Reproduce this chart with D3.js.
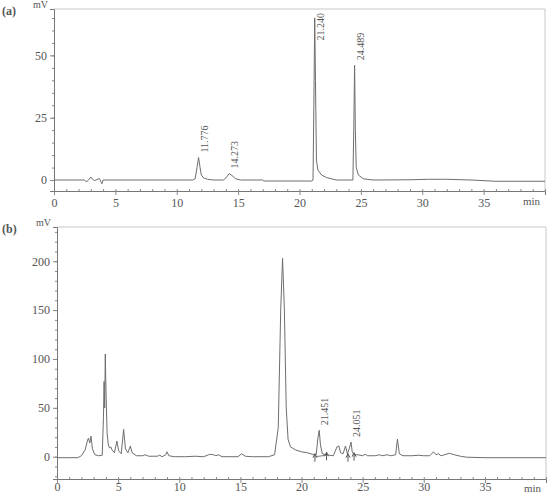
<!DOCTYPE html>
<html>
<head>
<meta charset="utf-8">
<script src="https://cdn.jsdelivr.net/npm/d3@7"></script>
<style>
  body { margin: 0; background: #fff; }
  text { font-family: "Liberation Serif", "DejaVu Serif", serif; fill: #555; }
</style>
</head>
<body>
<div id="chart"></div>
<script>
var w = 550, h = 495;

// trace (a): standard
var timesA = [0, 2.5, 2.65, 2.85, 3.0, 3.15, 3.3, 3.5, 3.7, 3.8, 3.9, 4.0,
  11.3, 11.5, 11.65, 11.776, 11.9, 12.0, 12.2, 12.5, 13.0,
  13.8, 14.0, 14.273, 14.5, 14.8, 15.2, 17.0, 17.1, 21.0, 21.1, 21.17, 21.24, 21.3, 21.38, 21.5, 21.8, 22.2, 23.0,
  24.35, 24.42, 24.489, 24.55, 24.62, 24.8, 25.2, 26.0, 29.0, 30.5, 32.0, 34.0, 36.0, 40.0];
var signalA = [0, 0, -0.8, 0.3, 1.2, 0.2, -0.2, 0.2, 0.6, -0.5, -1.5, 0,
  0, 0.5, 5, 9, 5, 2, 0.8, 0.3, 0,
  0, 0.8, 2.6, 1.8, 0.5, 0, 0, -0.4, -0.4, 0, 30, 65, 40, 8, 4, 2, 1, 0,
  0, 20, 46, 20, 5, 2, 0.5, 0, 0.1, 0.3, 0.3, 0, -0.5, -0.5];
var peaksA = [11.776, 14.273, 21.240, 24.489];
var peakHeightsA = [9, 2.6, 65, 46];
var peakLabelsA = ["11.776", "14.273", "21.240", "24.489"];

// trace (b): sample
var timesB = [0, 1.7, 2.0, 2.3, 2.5, 2.58, 2.68, 2.78, 2.9, 3.1, 3.4, 3.7, 3.8, 3.85, 3.9, 3.95, 4.02, 4.1, 4.2, 4.3, 4.4, 4.5, 4.7,
  4.9, 5.05, 5.25, 5.45, 5.6, 5.8, 6.0, 6.15, 6.5, 7.0, 7.2, 7.5, 8.2, 8.4, 8.6, 8.9, 9.0, 9.15, 9.6, 10.5, 11.3, 12.0,
  12.5, 12.8, 13.0, 13.2, 13.5, 14.8, 15.1, 15.4, 16.0, 17.3, 17.8, 18.1, 18.3, 18.45, 18.6, 18.75, 18.9, 19.1, 19.5, 20.0, 20.5,
  21.0, 21.2, 21.35, 21.45, 21.55, 21.7, 22.0, 22.3, 22.6, 22.9, 23.05, 23.2, 23.4, 23.6, 23.75, 23.9, 24.05, 24.15, 24.3, 24.6,
  25.0, 25.2, 25.4, 26.0, 26.4, 26.6, 27.0, 27.3, 27.7, 27.85, 28.0, 28.3, 29.0, 29.6, 30.0, 30.5, 30.8, 31.0, 31.2, 31.4, 31.7,
  32.1, 32.5, 33.0, 33.5, 35.0, 40.0];
var signalB = [-1, -1, 1, 7, 17, 19, 14, 21, 8, 2, 1, 1.5, 40, 77, 50, 105, 60, 24, 12, 9, 10, 7, 4,
  16, 6, 3, 28, 8, 4, 11, 4, 1, 1, 2, 0.5, 0.5, 1.5, 0, 2, 5, 1, 0, 0, 0.5, 0,
  2.5, 2, 1, 2, 0, 0, 3, 0.5, 0, 0, 2, 30, 150, 203, 150, 50, 18, 10, 7, 5, 4,
  2, 2, 20, 27, 12, 3, 2, 1.5, 1, 10, 11, 4, 3, 11, 3, 8, 15, 5, 2, 2,
  1, 2.5, 1, 1, 2, 1, 2, 1, 2, 18, 3, 1, 1, 1.5, 1, 1, 5, 2, 3, 1, 2,
  3.5, 2, 0.5, -0.5, -1, -1];
var peaksB = [21.451, 24.051];
var peakHeightsB = [27, 15];
var peakLabelsB = ["21.451", "24.051"];
var markTimesB = [21.1, 22.05, 23.8, 24.3];
var markLevelsB = [0, 1.5, 0, 1];

var svg = d3.select("#chart").append("svg")
    .attr("width", w)
    .attr("height", h);

function drawPanel(cfg) {
    var x = d3.scaleLinear().domain([0, 40]).range([cfg.left, cfg.right]);
    var y = d3.scaleLinear().domain(cfg.ydom).range([cfg.bottom, cfg.top]);
    var g = svg.append("g");

    // light frame on top and right
    g.append("path")
        .attr("d", "M" + cfg.left + "," + cfg.top + "H" + cfg.right + "V" + cfg.bottom)
        .attr("fill", "none")
        .attr("stroke", "#c8c8c8");

    // x axis: major every 5, minor every 1
    g.append("g").attr("transform", "translate(0," + cfg.bottom + ")")
        .call(d3.axisBottom(x).tickValues(d3.range(0, 36, 5)).tickSize(4).tickFormat(d3.format("d")))
        .selectAll(".tick text").attr("y", cfg.xlabOff);
    g.append("g").attr("transform", "translate(0," + cfg.bottom + ")")
        .call(d3.axisBottom(x).tickValues(d3.range(0, 41, 1)).tickSize(-2).tickFormat(""))
        .select(".domain").remove();

    g.append("g").attr("transform", "translate(" + cfg.left + ",0)")
        .call(d3.axisLeft(y).tickValues(cfg.yticks).tickSize(4).tickPadding(3).tickFormat(d3.format("d")));
    g.append("g").attr("transform", "translate(" + cfg.left + ",0)")
        .call(d3.axisLeft(y).tickValues(cfg.yminor).tickSize(2).tickFormat(""))
        .select(".domain").remove();

    g.selectAll(".domain").attr("stroke", "#777");
    g.selectAll(".tick line").attr("stroke", "#888");
    g.selectAll(".tick text").style("font-size", "12px").attr("fill", "#555");

    g.append("text").attr("x", cfg.right - 22).attr("y", cfg.bottom + cfg.minOff)
        .style("font-size", "11px").text("min");
    g.append("text").attr("x", cfg.left - 21).attr("y", cfg.top - 1)
        .style("font-size", "10px").text("mV");
    g.append("text").attr("x", 2).attr("y", cfg.top + 6)
        .style("font-size", "12px").style("font-weight", "bold").attr("fill", "#222")
        .text(cfg.tag);

    // trace
    var line = d3.line()
        .x(function (d, i) { return x(cfg.times[i]); })
        .y(function (d) { return y(d); });
    g.append("path")
        .datum(cfg.signal)
        .attr("d", line)
        .attr("fill", "none")
        .attr("stroke", "#6e6e6e")
        .attr("stroke-width", 1)
        .attr("stroke-linejoin", "round");

    // peak labels
    cfg.peaks.forEach(function (t, i) {
        var px = x(t) + 9, py = y(cfg.heights[i]) - 5;
        var lbl = g.append("text")
            .style("font-size", "10px")
            .attr("fill", "#555")
            .text(cfg.labels[i]);
        var len = lbl.node().getComputedTextLength();
        py = Math.max(py, cfg.top + 4 + len);
        lbl.attr("transform", "translate(" + px + "," + py + ") rotate(-90)");
    });

    // integration markers
    if (cfg.marks) {
        cfg.marks.forEach(function (t, i) {
            var mx = x(t), my = y(cfg.markLevels[i]);
            g.append("line").attr("x1", mx).attr("x2", mx).attr("y1", my - 3).attr("y2", my + 5)
                .attr("stroke", "#555");
            g.append("path").attr("d", "M" + (mx - 2) + "," + (my + 1) + "L" + mx + "," + (my - 3) + "L" + (mx + 2) + "," + (my + 1))
                .attr("fill", "none").attr("stroke", "#555");
        });
        g.append("line")
            .attr("x1", x(cfg.marks[0])).attr("x2", x(cfg.marks[1]))
            .attr("y1", y(cfg.markLevels[0])).attr("y2", y(cfg.markLevels[1]))
            .attr("stroke", "#777");
    }
}

drawPanel({
    tag: "(a)", left: 54, right: 545, top: 9, bottom: 191, xlabOff: 7, minOff: 14,
    ydom: [-4.4, 68.6], yticks: [0, 25, 50], yminor: d3.range(0, 70, 5),
    times: timesA, signal: signalA,
    peaks: peaksA, heights: peakHeightsA, labels: peakLabelsA
});

drawPanel({
    tag: "(b)", left: 57, right: 546, top: 227, bottom: 479, xlabOff: 3, minOff: 13,
    ydom: [-22.8, 235], yticks: [0, 50, 100, 150, 200], yminor: d3.range(-20, 235, 10),
    times: timesB, signal: signalB,
    peaks: peaksB, heights: peakHeightsB, labels: peakLabelsB,
    marks: markTimesB, markLevels: markLevelsB
});
</script>
</body>
</html>
